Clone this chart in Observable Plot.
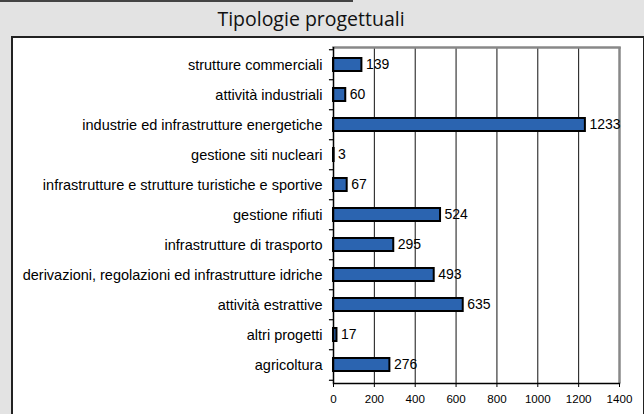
<!DOCTYPE html>
<html>
<head>
<meta charset="utf-8">
<script src="https://cdn.jsdelivr.net/npm/d3@7"></script>
<script src="https://cdn.jsdelivr.net/npm/@observablehq/plot@0.6"></script>
<style>
  html, body { margin: 0; padding: 0; }
  body { width: 644px; height: 414px; overflow: hidden; position: relative; background: #e3e3e3; }
  #topline { position: absolute; left: 0; top: 0; width: 353px; height: 2px; background: #444; }
  #title { position: absolute; left: 0; top: 9px; width: 622px; text-align: center; font-family: "Open Sans", sans-serif; font-size: 19.5px; line-height: 20px; color: #111; }
  #box { position: absolute; left: 11px; top: 36px; width: 630px; height: 400px; border: 2px solid #222; background: #fff; }
  #chart { position: absolute; left: 0; top: 0; }
</style>
</head>
<body>
<div id="topline"></div>
<div id="title">Tipologie progettuali</div>
<div id="box"></div>
<div id="chart"></div>
<script>
const categories = [
  "strutture commerciali",
  "attività industriali",
  "industrie ed infrastrutture energetiche",
  "gestione siti nucleari",
  "infrastrutture e strutture turistiche e sportive",
  "gestione rifiuti",
  "infrastrutture di trasporto",
  "derivazioni, regolazioni ed infrastrutture idriche",
  "attività estrattive",
  "altri progetti",
  "agricoltura"
];
const values = [139, 60, 1233, 3, 67, 524, 295, 493, 635, 17, 276];
const xTicks = [0, 200, 400, 600, 800, 1000, 1200, 1400];
const gridTicks = [200, 400, 600, 800, 1000, 1200];

const data = categories.map((c, i) => ({category: c, value: values[i]}));

const W = 644, H = 414;
const mTop = 47, mBottom = 31, mLeft = 333, mRight = 25;
const step = (H - mTop - mBottom) / categories.length;
const tickLen = 20; // data units (~4px)

const chart = Plot.plot({
  width: W,
  height: H,
  marginTop: mTop,
  marginBottom: mBottom,
  marginLeft: mLeft,
  marginRight: mRight,
  style: {background: "transparent", fontFamily: "'Liberation Sans', Arial, sans-serif", color: "#000"},
  x: {domain: [0, 1400]},
  y: {domain: categories, paddingInner: 0.56, paddingOuter: 0.28},
  marks: [
    Plot.ruleX(gridTicks, {stroke: "#111", strokeWidth: 1}),
    Plot.ruleX([1400], {stroke: "#888", strokeWidth: 2.5}),
    Plot.frame({anchor: "top", stroke: "#888", strokeWidth: 2.5}),
    Plot.barX(data, {x: "value", y: "category", fill: "#2b64b0", stroke: "#000", strokeWidth: 2}),
    Plot.text(data, {x: "value", y: "category", text: d => String(d.value), textAnchor: "start", dx: 4, fontSize: 14, fill: "#000"}),
    Plot.ruleY(categories, {y: d => d, x1: -tickLen, x2: 0, dy: -step / 2, stroke: "#000", strokeWidth: 1.2}),
    Plot.ruleY(categories.slice(-1), {y: d => d, x1: -tickLen, x2: 0, dy: step / 2, stroke: "#000", strokeWidth: 1.2}),
    Plot.ruleX([0], {stroke: "#000", strokeWidth: 1.5}),
    Plot.frame({anchor: "bottom", stroke: "#000", strokeWidth: 1.5}),
    Plot.axisY({tickSize: 0, tickPadding: 11, fontSize: 14.5, label: null}),
    Plot.axisX({ticks: xTicks, tickSize: 4, tickPadding: 7, fontSize: 11.6, tickFormat: d => String(d), label: null})
  ]
});
document.getElementById("chart").appendChild(chart);
</script>
</body>
</html>
